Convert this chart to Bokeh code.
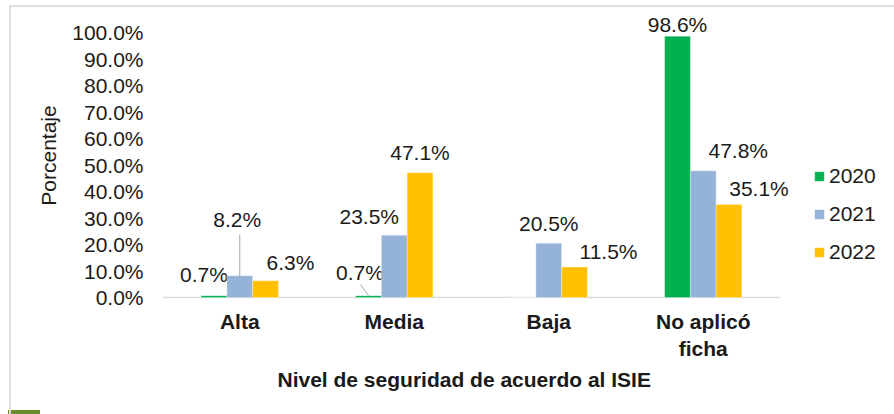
from bokeh.plotting import figure
from bokeh.models import (ColumnDataSource, FixedTicker, PrintfTickFormatter,
                          Legend, LegendItem, Range1d, Title)
from bokeh.embed import file_html
from bokeh.resources import INLINE
from bokeh.core.properties import value

# ---------------- data ----------------
categories = ["Alta", "Media", "Baja", "No aplicó\nficha"]
years = ["2020", "2021", "2022"]
v2020 = [0.7, 0.7, 0.0, 98.6]
v2021 = [8.2, 23.5, 20.5, 47.8]
v2022 = [6.3, 47.1, 11.5, 35.1]
y_ticks = [0, 10, 20, 30, 40, 50, 60, 70, 80, 90, 100]
x_title = "Nivel de seguridad de acuerdo al ISIE"
y_title = "Porcentaje"

# ---------------- style ----------------
colors = ["#00b050", "#95b3d7", "#ffc000"]
FONT = "Liberation Sans"
FS = "21px"
TXT = "#1a1a1a"
W, H = 894, 414
ML, MR, MT, MB = 162, 0, 12, 116
FRAME_W = W - ML - MR
FRAME_H = H - MT - MB
PX_X = 154.5          # px per category
PX_Y = 2.65           # px per percent
X_END = FRAME_W / PX_X
Y_START = -1 / PX_Y
Y_END = Y_START + FRAME_H / PX_Y
BAR_W = 1 / 6
# label offsets (px) from bar-top centre: (dx, dy up)
lab_off = {
    0: [(-10, 21), (-8.5, 23), None, (0, 11.5)],
    1: [(-2.5, 56), (-25, 18.5), (0, 20), (35, 20)],
    2: [(25, 18.5), (0, 20), (34, 15.5), (30, 16)],
}
# leader lines: (series, category, dx_end px, dy_end px)
leaders = [(1, 0, 0, 41), (0, 1, -8, 11)]

series = [v2020, v2021, v2022]

p = figure(width=W, height=H, x_range=Range1d(0, X_END),
           y_range=Range1d(Y_START, Y_END), output_backend="svg",
           toolbar_location=None, min_border_left=ML, min_border_right=MR,
           min_border_top=MT, min_border_bottom=MB)
p.outline_line_color = None
p.grid.visible = False
p.background_fill_alpha = 0
p.border_fill_alpha = 0
# chart border lines (top & left) and the small page tab, behind the transparent canvas
p.styles = {
    "background": ("linear-gradient(#dedede,#dedede) 9px 5px / 2px 100% no-repeat, "
                   "linear-gradient(#dedede,#dedede) 9px 5px / 100% 2px no-repeat, "
                   "linear-gradient(#6b8c2f,#6b8c2f) 8px 410px / 32px 4px no-repeat, white"),
}

# baseline
p.segment(x0=[0], y0=[0], x1=[len(categories)], y1=[0],
          line_color="#d9d9d9", line_width=1.5)

renderers = []
for s, vals in enumerate(series):
    off = (s - 1) * BAR_W
    xs = [i + 0.5 + off for i in range(len(categories))]
    src = ColumnDataSource(dict(x=xs, top=vals))
    r = p.vbar(x="x", top="top", bottom=0, width=BAR_W, source=src,
               fill_color=colors[s], line_color="white", line_width=0.5,
               line_alpha=0.6)
    renderers.append(r)
    lx, ly, lt = [], [], []
    for i, v in enumerate(vals):
        o = lab_off[s][i]
        if o is None:
            continue
        lx.append(xs[i] + o[0] / PX_X)
        ly.append(v + o[1] / PX_Y)
        lt.append(f"{v:.1f}%")
    p.text(x=lx, y=ly, text=lt, text_align="center", text_baseline="middle",
           text_font=value(FONT), text_font_size=FS, text_color=TXT)

for s, i, dx, dy in leaders:
    x0 = i + 0.5 + (s - 1) * BAR_W
    y0 = series[s][i]
    p.segment(x0=[x0], y0=[y0], x1=[x0 + dx / PX_X], y1=[y0 + dy / PX_Y],
              line_color="#a6a6a6", line_width=1)

# x axis
xa = p.xaxis[0]
xa.ticker = FixedTicker(ticks=[i + 0.5 for i in range(len(categories))])
xa.major_label_overrides = {i + 0.5: c for i, c in enumerate(categories)}
xa.axis_line_color = None
xa.major_tick_line_color = None
xa.minor_tick_line_color = None
xa.major_tick_out = 0
xa.major_tick_in = 0
xa.minor_tick_out = 0
xa.major_label_text_font = FONT
xa.major_label_text_font_size = FS
xa.major_label_text_font_style = "bold"
xa.major_label_text_color = TXT
xa.major_label_standoff = 11

# x axis title (placed under the axis, centred on the category area)
p.add_layout(Title(text=x_title, align="left", offset=115, standoff=5,
                   text_font=FONT, text_font_size=FS, text_font_style="bold",
                   text_color=TXT), "below")

# y axis
ya = p.yaxis[0]
ya.ticker = FixedTicker(ticks=y_ticks)
ya.formatter = PrintfTickFormatter(format="%.1f%%")
ya.axis_line_color = None
ya.major_tick_line_color = None
ya.minor_tick_line_color = None
ya.major_tick_out = 0
ya.major_tick_in = 0
ya.minor_tick_out = 0
ya.major_label_text_font = FONT
ya.major_label_text_font_size = FS
ya.major_label_text_color = TXT
ya.major_label_standoff = 19
ya.axis_label = y_title
ya.axis_label_text_font = FONT
ya.axis_label_text_font_size = FS
ya.axis_label_text_font_style = "normal"
ya.axis_label_text_color = TXT
ya.axis_label_standoff = 9

legend = Legend(items=[LegendItem(label=y, renderers=[r]) for y, r in zip(years, renderers)],
                location=(651, 34), orientation="vertical",
                glyph_width=12, glyph_height=12, label_standoff=4,
                label_text_font=FONT, label_text_font_size=FS,
                label_text_color=TXT, label_height=20, spacing=14,
                padding=0, margin=0, border_line_color=None,
                background_fill_alpha=0)
p.add_layout(legend, "center")

open("out.html", "w").write(file_html(p, INLINE))
